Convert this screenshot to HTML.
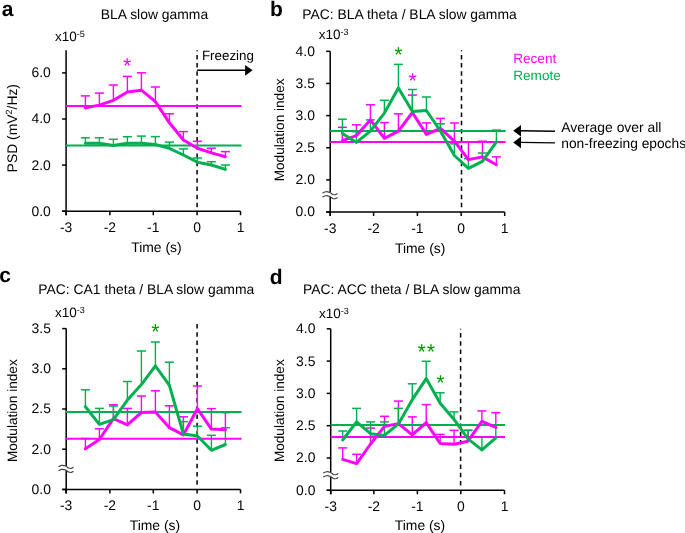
<!DOCTYPE html>
<html><head><meta charset="utf-8"><style>
html,body{margin:0;padding:0;background:#fff;}
svg{display:block;will-change:transform;}
text{font-family:"Liberation Sans",sans-serif;text-rendering:geometricPrecision;}
</style></head><body>
<svg width="685" height="533" viewBox="0 0 685 533">
<rect width="685" height="533" fill="#fff"/>
<text x="1.8" y="16" font-size="21" text-anchor="start" fill="#000" font-weight="bold" >a</text>
<text x="154.5" y="18.6" font-size="13.9" text-anchor="middle" fill="#000" font-weight="normal" >BLA slow gamma</text>
<text x="54.9" y="40.8" font-size="13.5">x10<tspan font-size="9" dy="-4.3">-5</tspan></text>
<line x1="66.1" y1="50.2" x2="66.1" y2="215.2" stroke="#000" stroke-width="1.5" />
<line x1="62.099999999999994" y1="72.9" x2="66.1" y2="72.9" stroke="#000" stroke-width="1.5" />
<text x="50.8" y="77.30000000000001" font-size="13.9" text-anchor="end" fill="#000" font-weight="normal" >6.0</text>
<line x1="62.099999999999994" y1="119" x2="66.1" y2="119" stroke="#000" stroke-width="1.5" />
<text x="50.8" y="123.4" font-size="13.9" text-anchor="end" fill="#000" font-weight="normal" >4.0</text>
<line x1="62.099999999999994" y1="165.1" x2="66.1" y2="165.1" stroke="#000" stroke-width="1.5" />
<text x="50.8" y="169.5" font-size="13.9" text-anchor="end" fill="#000" font-weight="normal" >2.0</text>
<line x1="62.099999999999994" y1="211.2" x2="66.1" y2="211.2" stroke="#000" stroke-width="1.5" />
<text x="50.8" y="215.6" font-size="13.9" text-anchor="end" fill="#000" font-weight="normal" >0.0</text>
<line x1="62.099999999999994" y1="211.2" x2="240.5" y2="211.2" stroke="#000" stroke-width="1.5" />
<line x1="66.1" y1="211.2" x2="66.1" y2="215.2" stroke="#000" stroke-width="1.5" />
<text x="66.1" y="231.79999999999998" font-size="13.9" text-anchor="middle" fill="#000" font-weight="normal" >-3</text>
<line x1="109.9" y1="211.2" x2="109.9" y2="215.2" stroke="#000" stroke-width="1.5" />
<text x="109.9" y="231.79999999999998" font-size="13.9" text-anchor="middle" fill="#000" font-weight="normal" >-2</text>
<line x1="153.3" y1="211.2" x2="153.3" y2="215.2" stroke="#000" stroke-width="1.5" />
<text x="153.3" y="231.79999999999998" font-size="13.9" text-anchor="middle" fill="#000" font-weight="normal" >-1</text>
<line x1="197.1" y1="211.2" x2="197.1" y2="215.2" stroke="#000" stroke-width="1.5" />
<text x="197.1" y="231.79999999999998" font-size="13.9" text-anchor="middle" fill="#000" font-weight="normal" >0</text>
<line x1="240.5" y1="211.2" x2="240.5" y2="215.2" stroke="#000" stroke-width="1.5" />
<text x="240.5" y="231.79999999999998" font-size="13.9" text-anchor="middle" fill="#000" font-weight="normal" >1</text>
<text x="156.4" y="251.7" font-size="13.9" text-anchor="middle" fill="#000" font-weight="normal" >Time (s)</text>
<text transform="translate(16.6,128.2) rotate(-90)" font-size="13.9" text-anchor="middle">PSD (mV<tspan font-size="9" dy="-4.3">2</tspan><tspan dy="4.3">/Hz)</tspan></text>
<line x1="197.1" y1="50.2" x2="197.1" y2="207.5" stroke="#000" stroke-width="1.5" stroke-dasharray="4.5 3.72" stroke-dashoffset="3.52"/>
<text x="201.9" y="59.7" font-size="13.4" text-anchor="start" fill="#000" font-weight="normal" >Freezing</text>
<line x1="197.1" y1="70.2" x2="246" y2="70.2" stroke="#000" stroke-width="1.4" />
<polygon points="245.1,64.9 252.6,70.3 245.1,75.8" fill="#000"/>
<line x1="85.4" y1="107.8" x2="85.4" y2="95.9" stroke="#FF00FF" stroke-width="1.4" />
<line x1="80.9" y1="95.9" x2="89.9" y2="95.9" stroke="#FF00FF" stroke-width="1.5" />
<line x1="99.4" y1="105.1" x2="99.4" y2="93.1" stroke="#FF00FF" stroke-width="1.4" />
<line x1="94.9" y1="93.1" x2="103.9" y2="93.1" stroke="#FF00FF" stroke-width="1.5" />
<line x1="113.4" y1="100.3" x2="113.4" y2="85" stroke="#FF00FF" stroke-width="1.4" />
<line x1="108.9" y1="85" x2="117.9" y2="85" stroke="#FF00FF" stroke-width="1.5" />
<line x1="127.4" y1="92" x2="127.4" y2="76.4" stroke="#FF00FF" stroke-width="1.4" />
<line x1="122.9" y1="76.4" x2="131.9" y2="76.4" stroke="#FF00FF" stroke-width="1.5" />
<line x1="141.4" y1="90.2" x2="141.4" y2="72.8" stroke="#FF00FF" stroke-width="1.4" />
<line x1="136.9" y1="72.8" x2="145.9" y2="72.8" stroke="#FF00FF" stroke-width="1.5" />
<line x1="155.4" y1="101.7" x2="155.4" y2="87" stroke="#FF00FF" stroke-width="1.4" />
<line x1="150.9" y1="87" x2="159.9" y2="87" stroke="#FF00FF" stroke-width="1.5" />
<line x1="169.4" y1="122.8" x2="169.4" y2="113.8" stroke="#FF00FF" stroke-width="1.4" />
<line x1="164.9" y1="113.8" x2="173.9" y2="113.8" stroke="#FF00FF" stroke-width="1.5" />
<line x1="183.4" y1="140" x2="183.4" y2="131.6" stroke="#FF00FF" stroke-width="1.4" />
<line x1="178.9" y1="131.6" x2="187.9" y2="131.6" stroke="#FF00FF" stroke-width="1.5" />
<line x1="197.4" y1="148.3" x2="197.4" y2="141.3" stroke="#FF00FF" stroke-width="1.4" />
<line x1="192.9" y1="141.3" x2="201.9" y2="141.3" stroke="#FF00FF" stroke-width="1.5" />
<line x1="211.4" y1="152.9" x2="211.4" y2="148.2" stroke="#FF00FF" stroke-width="1.4" />
<line x1="206.9" y1="148.2" x2="215.9" y2="148.2" stroke="#FF00FF" stroke-width="1.5" />
<line x1="225.4" y1="156.7" x2="225.4" y2="151.6" stroke="#FF00FF" stroke-width="1.4" />
<line x1="220.9" y1="151.6" x2="229.9" y2="151.6" stroke="#FF00FF" stroke-width="1.5" />
<line x1="85.4" y1="143.2" x2="85.4" y2="137.8" stroke="#00B050" stroke-width="1.4" />
<line x1="80.9" y1="137.8" x2="89.9" y2="137.8" stroke="#00B050" stroke-width="1.5" />
<line x1="99.4" y1="143.2" x2="99.4" y2="137.8" stroke="#00B050" stroke-width="1.4" />
<line x1="94.9" y1="137.8" x2="103.9" y2="137.8" stroke="#00B050" stroke-width="1.5" />
<line x1="113.4" y1="145.4" x2="113.4" y2="139.3" stroke="#00B050" stroke-width="1.4" />
<line x1="108.9" y1="139.3" x2="117.9" y2="139.3" stroke="#00B050" stroke-width="1.5" />
<line x1="127.4" y1="143.2" x2="127.4" y2="136.7" stroke="#00B050" stroke-width="1.4" />
<line x1="122.9" y1="136.7" x2="131.9" y2="136.7" stroke="#00B050" stroke-width="1.5" />
<line x1="141.4" y1="143.3" x2="141.4" y2="136.1" stroke="#00B050" stroke-width="1.4" />
<line x1="136.9" y1="136.1" x2="145.9" y2="136.1" stroke="#00B050" stroke-width="1.5" />
<line x1="155.4" y1="144.5" x2="155.4" y2="136.6" stroke="#00B050" stroke-width="1.4" />
<line x1="150.9" y1="136.6" x2="159.9" y2="136.6" stroke="#00B050" stroke-width="1.5" />
<line x1="169.4" y1="148.4" x2="169.4" y2="142.1" stroke="#00B050" stroke-width="1.4" />
<line x1="164.9" y1="142.1" x2="173.9" y2="142.1" stroke="#00B050" stroke-width="1.5" />
<line x1="183.4" y1="155" x2="183.4" y2="148.9" stroke="#00B050" stroke-width="1.4" />
<line x1="178.9" y1="148.9" x2="187.9" y2="148.9" stroke="#00B050" stroke-width="1.5" />
<line x1="197.4" y1="162.2" x2="197.4" y2="158" stroke="#00B050" stroke-width="1.4" />
<line x1="192.9" y1="158" x2="201.9" y2="158" stroke="#00B050" stroke-width="1.5" />
<line x1="211.4" y1="165" x2="211.4" y2="161.7" stroke="#00B050" stroke-width="1.4" />
<line x1="206.9" y1="161.7" x2="215.9" y2="161.7" stroke="#00B050" stroke-width="1.5" />
<line x1="225.4" y1="169.4" x2="225.4" y2="165" stroke="#00B050" stroke-width="1.4" />
<line x1="220.9" y1="165" x2="229.9" y2="165" stroke="#00B050" stroke-width="1.5" />
<line x1="66" y1="105.9" x2="241.5" y2="105.9" stroke="#FF00FF" stroke-width="2" />
<line x1="66" y1="145.5" x2="241.5" y2="145.5" stroke="#00B050" stroke-width="2" />
<polyline points="85.40,107.80 99.40,105.10 113.40,100.30 127.40,92.00 141.40,90.20 155.40,101.70 169.40,122.80 183.40,140.00 197.40,148.30 211.40,152.90 225.40,156.70" fill="none" stroke="#FF00FF" stroke-width="3" stroke-linejoin="round" stroke-linecap="round" />
<polyline points="85.40,143.20 99.40,143.20 113.40,145.40 127.40,143.20 141.40,143.30 155.40,144.50 169.40,148.40 183.40,155.00 197.40,162.20 211.40,165.00 225.40,169.40" fill="none" stroke="#00B050" stroke-width="3" stroke-linejoin="round" stroke-linecap="round" />
<text x="127.1" y="72.93" font-size="21.5" text-anchor="middle" fill="#FF00FF" font-weight="normal" >*</text>
<text x="269.9" y="15.7" font-size="21" text-anchor="start" fill="#000" font-weight="bold" >b</text>
<text x="409.5" y="18.5" font-size="13.9" text-anchor="middle" fill="#000" font-weight="normal" >PAC: BLA theta / BLA slow gamma</text>
<text x="318.7" y="39.2" font-size="13.5">x10<tspan font-size="9" dy="-4.3">-3</tspan></text>
<line x1="330.2" y1="51.3" x2="330.2" y2="216" stroke="#000" stroke-width="1.5" />
<line x1="326.2" y1="51.3" x2="330.2" y2="51.3" stroke="#000" stroke-width="1.5" />
<text x="314.9" y="55.699999999999996" font-size="13.9" text-anchor="end" fill="#000" font-weight="normal" >4.0</text>
<line x1="326.2" y1="83.45" x2="330.2" y2="83.45" stroke="#000" stroke-width="1.5" />
<text x="314.9" y="87.85000000000001" font-size="13.9" text-anchor="end" fill="#000" font-weight="normal" >3.5</text>
<line x1="326.2" y1="115.6" x2="330.2" y2="115.6" stroke="#000" stroke-width="1.5" />
<text x="314.9" y="120.0" font-size="13.9" text-anchor="end" fill="#000" font-weight="normal" >3.0</text>
<line x1="326.2" y1="147.75" x2="330.2" y2="147.75" stroke="#000" stroke-width="1.5" />
<text x="314.9" y="152.15" font-size="13.9" text-anchor="end" fill="#000" font-weight="normal" >2.5</text>
<line x1="326.2" y1="179.9" x2="330.2" y2="179.9" stroke="#000" stroke-width="1.5" />
<text x="314.9" y="184.3" font-size="13.9" text-anchor="end" fill="#000" font-weight="normal" >2.0</text>
<line x1="326.2" y1="212" x2="330.2" y2="212" stroke="#000" stroke-width="1.5" />
<text x="314.9" y="216.4" font-size="13.9" text-anchor="end" fill="#000" font-weight="normal" >0.0</text>
<line x1="326.2" y1="212" x2="504.7" y2="212" stroke="#000" stroke-width="1.5" />
<line x1="330.2" y1="212" x2="330.2" y2="216" stroke="#000" stroke-width="1.5" />
<text x="330.2" y="232.6" font-size="13.9" text-anchor="middle" fill="#000" font-weight="normal" >-3</text>
<line x1="373.6" y1="212" x2="373.6" y2="216" stroke="#000" stroke-width="1.5" />
<text x="373.6" y="232.6" font-size="13.9" text-anchor="middle" fill="#000" font-weight="normal" >-2</text>
<line x1="417.4" y1="212" x2="417.4" y2="216" stroke="#000" stroke-width="1.5" />
<text x="417.4" y="232.6" font-size="13.9" text-anchor="middle" fill="#000" font-weight="normal" >-1</text>
<line x1="461.2" y1="212" x2="461.2" y2="216" stroke="#000" stroke-width="1.5" />
<text x="461.2" y="232.6" font-size="13.9" text-anchor="middle" fill="#000" font-weight="normal" >0</text>
<line x1="504.7" y1="212" x2="504.7" y2="216" stroke="#000" stroke-width="1.5" />
<text x="504.7" y="232.6" font-size="13.9" text-anchor="middle" fill="#000" font-weight="normal" >1</text>
<rect x="328.2" y="192.6" width="4" height="4.0" fill="#fff"/>
<path d="M322.40,193.10 C322.98,192.87 324.68,191.82 325.90,191.70 C327.12,191.58 328.57,191.95 329.70,192.40 C330.83,192.85 331.78,194.02 332.70,194.40 C333.62,194.78 334.38,194.85 335.20,194.70 C336.02,194.55 337.20,193.70 337.60,193.50" fill="none" stroke="#444" stroke-width="1.1"/>
<path d="M322.40,197.10 C322.98,196.87 324.68,195.82 325.90,195.70 C327.12,195.58 328.57,195.95 329.70,196.40 C330.83,196.85 331.78,198.02 332.70,198.40 C333.62,198.78 334.38,198.85 335.20,198.70 C336.02,198.55 337.20,197.70 337.60,197.50" fill="none" stroke="#444" stroke-width="1.1"/>
<text x="420.2" y="253" font-size="13.9" text-anchor="middle" fill="#000" font-weight="normal" >Time (s)</text>
<text transform="translate(283.7,129.9) rotate(-90)" font-size="13.6" text-anchor="middle">Modulation index</text>
<line x1="461.5" y1="50.2" x2="461.5" y2="207.5" stroke="#000" stroke-width="1.5" stroke-dasharray="4.5 3.72" stroke-dashoffset="3.52"/>
<line x1="342.4" y1="140.6" x2="342.4" y2="127.3" stroke="#FF00FF" stroke-width="1.4" />
<line x1="337.9" y1="127.3" x2="346.9" y2="127.3" stroke="#FF00FF" stroke-width="1.5" />
<line x1="356.4" y1="135.6" x2="356.4" y2="124.8" stroke="#FF00FF" stroke-width="1.4" />
<line x1="351.9" y1="124.8" x2="360.9" y2="124.8" stroke="#FF00FF" stroke-width="1.5" />
<line x1="370.4" y1="119.9" x2="370.4" y2="104.8" stroke="#FF00FF" stroke-width="1.4" />
<line x1="365.9" y1="104.8" x2="374.9" y2="104.8" stroke="#FF00FF" stroke-width="1.5" />
<line x1="384.4" y1="138.3" x2="384.4" y2="122.6" stroke="#FF00FF" stroke-width="1.4" />
<line x1="379.9" y1="122.6" x2="388.9" y2="122.6" stroke="#FF00FF" stroke-width="1.5" />
<line x1="398.4" y1="131.1" x2="398.4" y2="113.8" stroke="#FF00FF" stroke-width="1.4" />
<line x1="393.9" y1="113.8" x2="402.9" y2="113.8" stroke="#FF00FF" stroke-width="1.5" />
<line x1="412.4" y1="112.5" x2="412.4" y2="95.1" stroke="#FF00FF" stroke-width="1.4" />
<line x1="407.9" y1="95.1" x2="416.9" y2="95.1" stroke="#FF00FF" stroke-width="1.5" />
<line x1="426.4" y1="134.4" x2="426.4" y2="122.9" stroke="#FF00FF" stroke-width="1.4" />
<line x1="421.9" y1="122.9" x2="430.9" y2="122.9" stroke="#FF00FF" stroke-width="1.5" />
<line x1="440.4" y1="128.4" x2="440.4" y2="118.4" stroke="#FF00FF" stroke-width="1.4" />
<line x1="435.9" y1="118.4" x2="444.9" y2="118.4" stroke="#FF00FF" stroke-width="1.5" />
<line x1="454.4" y1="141.2" x2="454.4" y2="123" stroke="#FF00FF" stroke-width="1.4" />
<line x1="449.9" y1="123" x2="458.9" y2="123" stroke="#FF00FF" stroke-width="1.5" />
<line x1="468.4" y1="159.6" x2="468.4" y2="142" stroke="#FF00FF" stroke-width="1.4" />
<line x1="463.9" y1="142" x2="472.9" y2="142" stroke="#FF00FF" stroke-width="1.5" />
<line x1="482.4" y1="156.9" x2="482.4" y2="141.2" stroke="#FF00FF" stroke-width="1.4" />
<line x1="477.9" y1="141.2" x2="486.9" y2="141.2" stroke="#FF00FF" stroke-width="1.5" />
<line x1="496.4" y1="164.8" x2="496.4" y2="156.9" stroke="#FF00FF" stroke-width="1.4" />
<line x1="491.9" y1="156.9" x2="500.9" y2="156.9" stroke="#FF00FF" stroke-width="1.5" />
<line x1="342.4" y1="133.4" x2="342.4" y2="119.2" stroke="#00B050" stroke-width="1.4" />
<line x1="337.9" y1="119.2" x2="346.9" y2="119.2" stroke="#00B050" stroke-width="1.5" />
<line x1="356.4" y1="142.4" x2="356.4" y2="131.6" stroke="#00B050" stroke-width="1.4" />
<line x1="351.9" y1="131.6" x2="360.9" y2="131.6" stroke="#00B050" stroke-width="1.5" />
<line x1="370.4" y1="131.1" x2="370.4" y2="119.9" stroke="#00B050" stroke-width="1.4" />
<line x1="365.9" y1="119.9" x2="374.9" y2="119.9" stroke="#00B050" stroke-width="1.5" />
<line x1="384.4" y1="113.1" x2="384.4" y2="100.3" stroke="#00B050" stroke-width="1.4" />
<line x1="379.9" y1="100.3" x2="388.9" y2="100.3" stroke="#00B050" stroke-width="1.5" />
<line x1="398.4" y1="87.9" x2="398.4" y2="64.4" stroke="#00B050" stroke-width="1.4" />
<line x1="393.9" y1="64.4" x2="402.9" y2="64.4" stroke="#00B050" stroke-width="1.5" />
<line x1="412.4" y1="111.6" x2="412.4" y2="89.5" stroke="#00B050" stroke-width="1.4" />
<line x1="407.9" y1="89.5" x2="416.9" y2="89.5" stroke="#00B050" stroke-width="1.5" />
<line x1="426.4" y1="110.5" x2="426.4" y2="97" stroke="#00B050" stroke-width="1.4" />
<line x1="421.9" y1="97" x2="430.9" y2="97" stroke="#00B050" stroke-width="1.5" />
<line x1="440.4" y1="131" x2="440.4" y2="123.8" stroke="#00B050" stroke-width="1.4" />
<line x1="435.9" y1="123.8" x2="444.9" y2="123.8" stroke="#00B050" stroke-width="1.5" />
<line x1="454.4" y1="155.5" x2="454.4" y2="143.8" stroke="#00B050" stroke-width="1.4" />
<line x1="449.9" y1="143.8" x2="458.9" y2="143.8" stroke="#00B050" stroke-width="1.5" />
<line x1="468.4" y1="168.3" x2="468.4" y2="158.7" stroke="#00B050" stroke-width="1.4" />
<line x1="463.9" y1="158.7" x2="472.9" y2="158.7" stroke="#00B050" stroke-width="1.5" />
<line x1="482.4" y1="161.3" x2="482.4" y2="153" stroke="#00B050" stroke-width="1.4" />
<line x1="477.9" y1="153" x2="486.9" y2="153" stroke="#00B050" stroke-width="1.5" />
<line x1="496.4" y1="142" x2="496.4" y2="130.1" stroke="#00B050" stroke-width="1.4" />
<line x1="491.9" y1="130.1" x2="500.9" y2="130.1" stroke="#00B050" stroke-width="1.5" />
<line x1="330.2" y1="130.9" x2="505.6" y2="130.9" stroke="#00B050" stroke-width="2" />
<line x1="330.2" y1="141.9" x2="505.6" y2="141.9" stroke="#FF00FF" stroke-width="2" />
<polyline points="342.40,140.60 356.40,135.60 370.40,119.90 384.40,138.30 398.40,131.10 412.40,112.50 426.40,134.40 440.40,128.40 454.40,141.20 468.40,159.60 482.40,156.90 496.40,164.80" fill="none" stroke="#FF00FF" stroke-width="3" stroke-linejoin="round" stroke-linecap="round" />
<polyline points="342.40,133.40 356.40,142.40 370.40,131.10 384.40,113.10 398.40,87.90 412.40,111.60 426.40,110.50 440.40,131.00 454.40,155.50 468.40,168.30 482.40,161.30 496.40,142.00" fill="none" stroke="#00B050" stroke-width="3" stroke-linejoin="round" stroke-linecap="round" />
<text x="398.4" y="62.48" font-size="21.5" text-anchor="middle" fill="#009A00" font-weight="normal" >*</text>
<text x="412.6" y="88.23" font-size="21.5" text-anchor="middle" fill="#FF00FF" font-weight="normal" >*</text>
<text x="513.2" y="63" font-size="13.6" text-anchor="start" fill="#FF00FF" font-weight="normal" >Recent</text>
<text x="513.2" y="79.7" font-size="13.6" text-anchor="start" fill="#00B050" font-weight="normal" >Remote</text>
<line x1="520" y1="130.8" x2="555" y2="131.3" stroke="#000" stroke-width="1.4"/>
<polygon points="513.2,130.8 521,125.00000000000001 521,136.60000000000002" fill="#000"/>
<line x1="520" y1="142.4" x2="555" y2="142.9" stroke="#000" stroke-width="1.4"/>
<polygon points="513.2,142.4 521,136.6 521,148.20000000000002" fill="#000"/>
<text x="561.3" y="132" font-size="13.9" text-anchor="start" fill="#000" font-weight="normal" >Average over all</text>
<text x="561.3" y="148.3" font-size="13.77" text-anchor="start" fill="#000" font-weight="normal" >non-freezing epochs</text>
<text x="-0.8" y="282.3" font-size="21" text-anchor="start" fill="#000" font-weight="bold" >c</text>
<text x="146.3" y="293.5" font-size="13.9" text-anchor="middle" fill="#000" font-weight="normal" >PAC: CA1 theta / BLA slow gamma</text>
<text x="54.9" y="317" font-size="13.5">x10<tspan font-size="9" dy="-4.3">-3</tspan></text>
<line x1="66.2" y1="328.4" x2="66.2" y2="493.4" stroke="#000" stroke-width="1.5" />
<line x1="62.2" y1="328.6" x2="66.2" y2="328.6" stroke="#000" stroke-width="1.5" />
<text x="50.900000000000006" y="333.0" font-size="13.9" text-anchor="end" fill="#000" font-weight="normal" >3.5</text>
<line x1="62.2" y1="368.8" x2="66.2" y2="368.8" stroke="#000" stroke-width="1.5" />
<text x="50.900000000000006" y="373.2" font-size="13.9" text-anchor="end" fill="#000" font-weight="normal" >3.0</text>
<line x1="62.2" y1="409" x2="66.2" y2="409" stroke="#000" stroke-width="1.5" />
<text x="50.900000000000006" y="413.4" font-size="13.9" text-anchor="end" fill="#000" font-weight="normal" >2.5</text>
<line x1="62.2" y1="449.2" x2="66.2" y2="449.2" stroke="#000" stroke-width="1.5" />
<text x="50.900000000000006" y="453.59999999999997" font-size="13.9" text-anchor="end" fill="#000" font-weight="normal" >2.0</text>
<line x1="62.2" y1="489.4" x2="66.2" y2="489.4" stroke="#000" stroke-width="1.5" />
<text x="50.900000000000006" y="493.79999999999995" font-size="13.9" text-anchor="end" fill="#000" font-weight="normal" >0.0</text>
<line x1="62.2" y1="489.4" x2="240.5" y2="489.4" stroke="#000" stroke-width="1.5" />
<line x1="66.1" y1="489.4" x2="66.1" y2="493.4" stroke="#000" stroke-width="1.5" />
<text x="66.1" y="510.0" font-size="13.9" text-anchor="middle" fill="#000" font-weight="normal" >-3</text>
<line x1="109.9" y1="489.4" x2="109.9" y2="493.4" stroke="#000" stroke-width="1.5" />
<text x="109.9" y="510.0" font-size="13.9" text-anchor="middle" fill="#000" font-weight="normal" >-2</text>
<line x1="153.3" y1="489.4" x2="153.3" y2="493.4" stroke="#000" stroke-width="1.5" />
<text x="153.3" y="510.0" font-size="13.9" text-anchor="middle" fill="#000" font-weight="normal" >-1</text>
<line x1="197.1" y1="489.4" x2="197.1" y2="493.4" stroke="#000" stroke-width="1.5" />
<text x="197.1" y="510.0" font-size="13.9" text-anchor="middle" fill="#000" font-weight="normal" >0</text>
<line x1="240.5" y1="489.4" x2="240.5" y2="493.4" stroke="#000" stroke-width="1.5" />
<text x="240.5" y="510.0" font-size="13.9" text-anchor="middle" fill="#000" font-weight="normal" >1</text>
<rect x="64.2" y="466.3" width="4" height="4.0" fill="#fff"/>
<path d="M58.40,466.80 C58.98,466.57 60.68,465.52 61.90,465.40 C63.12,465.28 64.57,465.65 65.70,466.10 C66.83,466.55 67.78,467.72 68.70,468.10 C69.62,468.48 70.38,468.55 71.20,468.40 C72.02,468.25 73.20,467.40 73.60,467.20" fill="none" stroke="#444" stroke-width="1.1"/>
<path d="M58.40,470.80 C58.98,470.57 60.68,469.52 61.90,469.40 C63.12,469.28 64.57,469.65 65.70,470.10 C66.83,470.55 67.78,471.72 68.70,472.10 C69.62,472.48 70.38,472.55 71.20,472.40 C72.02,472.25 73.20,471.40 73.60,471.20" fill="none" stroke="#444" stroke-width="1.1"/>
<text x="154.9" y="529.5" font-size="13.9" text-anchor="middle" fill="#000" font-weight="normal" >Time (s)</text>
<text transform="translate(17.2,410.7) rotate(-90)" font-size="13.6" text-anchor="middle">Modulation index</text>
<line x1="197.1" y1="324.1" x2="197.1" y2="485" stroke="#000" stroke-width="1.5" stroke-dasharray="4.5 3.72" stroke-dashoffset="0.00"/>
<line x1="85.4" y1="448.8" x2="85.4" y2="438.5" stroke="#FF00FF" stroke-width="1.4" />
<line x1="80.9" y1="438.5" x2="89.9" y2="438.5" stroke="#FF00FF" stroke-width="1.5" />
<line x1="99.4" y1="439.5" x2="99.4" y2="428.8" stroke="#FF00FF" stroke-width="1.4" />
<line x1="94.9" y1="428.8" x2="103.9" y2="428.8" stroke="#FF00FF" stroke-width="1.5" />
<line x1="113.4" y1="418.7" x2="113.4" y2="404.8" stroke="#FF00FF" stroke-width="1.4" />
<line x1="108.9" y1="404.8" x2="117.9" y2="404.8" stroke="#FF00FF" stroke-width="1.5" />
<line x1="127.4" y1="424.8" x2="127.4" y2="408.4" stroke="#FF00FF" stroke-width="1.4" />
<line x1="122.9" y1="408.4" x2="131.9" y2="408.4" stroke="#FF00FF" stroke-width="1.5" />
<line x1="141.4" y1="412.5" x2="141.4" y2="396" stroke="#FF00FF" stroke-width="1.4" />
<line x1="136.9" y1="396" x2="145.9" y2="396" stroke="#FF00FF" stroke-width="1.5" />
<line x1="155.4" y1="411.9" x2="155.4" y2="390.8" stroke="#FF00FF" stroke-width="1.4" />
<line x1="150.9" y1="390.8" x2="159.9" y2="390.8" stroke="#FF00FF" stroke-width="1.5" />
<line x1="169.4" y1="427.7" x2="169.4" y2="405.8" stroke="#FF00FF" stroke-width="1.4" />
<line x1="164.9" y1="405.8" x2="173.9" y2="405.8" stroke="#FF00FF" stroke-width="1.5" />
<line x1="183.4" y1="434.9" x2="183.4" y2="416.8" stroke="#FF00FF" stroke-width="1.4" />
<line x1="178.9" y1="416.8" x2="187.9" y2="416.8" stroke="#FF00FF" stroke-width="1.5" />
<line x1="197.4" y1="408.7" x2="197.4" y2="386" stroke="#FF00FF" stroke-width="1.4" />
<line x1="192.9" y1="386" x2="201.9" y2="386" stroke="#FF00FF" stroke-width="1.5" />
<line x1="211.4" y1="429.1" x2="211.4" y2="408.6" stroke="#FF00FF" stroke-width="1.4" />
<line x1="206.9" y1="408.6" x2="215.9" y2="408.6" stroke="#FF00FF" stroke-width="1.5" />
<line x1="225.4" y1="429.8" x2="225.4" y2="412.7" stroke="#FF00FF" stroke-width="1.4" />
<line x1="220.9" y1="412.7" x2="229.9" y2="412.7" stroke="#FF00FF" stroke-width="1.5" />
<line x1="85.4" y1="406.7" x2="85.4" y2="389.8" stroke="#00B050" stroke-width="1.4" />
<line x1="80.9" y1="389.8" x2="89.9" y2="389.8" stroke="#00B050" stroke-width="1.5" />
<line x1="99.4" y1="424.4" x2="99.4" y2="408.4" stroke="#00B050" stroke-width="1.4" />
<line x1="94.9" y1="408.4" x2="103.9" y2="408.4" stroke="#00B050" stroke-width="1.5" />
<line x1="113.4" y1="419.7" x2="113.4" y2="406" stroke="#00B050" stroke-width="1.4" />
<line x1="108.9" y1="406" x2="117.9" y2="406" stroke="#00B050" stroke-width="1.5" />
<line x1="127.4" y1="400.1" x2="127.4" y2="381.5" stroke="#00B050" stroke-width="1.4" />
<line x1="122.9" y1="381.5" x2="131.9" y2="381.5" stroke="#00B050" stroke-width="1.5" />
<line x1="141.4" y1="384.6" x2="141.4" y2="351" stroke="#00B050" stroke-width="1.4" />
<line x1="136.9" y1="351" x2="145.9" y2="351" stroke="#00B050" stroke-width="1.5" />
<line x1="155.4" y1="365.8" x2="155.4" y2="342" stroke="#00B050" stroke-width="1.4" />
<line x1="150.9" y1="342" x2="159.9" y2="342" stroke="#00B050" stroke-width="1.5" />
<line x1="169.4" y1="385.3" x2="169.4" y2="362.2" stroke="#00B050" stroke-width="1.4" />
<line x1="164.9" y1="362.2" x2="173.9" y2="362.2" stroke="#00B050" stroke-width="1.5" />
<line x1="183.4" y1="434" x2="183.4" y2="421.6" stroke="#00B050" stroke-width="1.4" />
<line x1="178.9" y1="421.6" x2="187.9" y2="421.6" stroke="#00B050" stroke-width="1.5" />
<line x1="197.4" y1="436" x2="197.4" y2="426.2" stroke="#00B050" stroke-width="1.4" />
<line x1="192.9" y1="426.2" x2="201.9" y2="426.2" stroke="#00B050" stroke-width="1.5" />
<line x1="211.4" y1="450.3" x2="211.4" y2="435.3" stroke="#00B050" stroke-width="1.4" />
<line x1="206.9" y1="435.3" x2="215.9" y2="435.3" stroke="#00B050" stroke-width="1.5" />
<line x1="225.4" y1="444.5" x2="225.4" y2="427.8" stroke="#00B050" stroke-width="1.4" />
<line x1="220.9" y1="427.8" x2="229.9" y2="427.8" stroke="#00B050" stroke-width="1.5" />
<line x1="66" y1="411.9" x2="241.5" y2="411.9" stroke="#00B050" stroke-width="2" />
<line x1="66" y1="438.8" x2="241.5" y2="438.8" stroke="#FF00FF" stroke-width="2" />
<polyline points="85.40,448.80 99.40,439.50 113.40,418.70 127.40,424.80 141.40,412.50 155.40,411.90 169.40,427.70 183.40,434.90 197.40,408.70 211.40,429.10 225.40,429.80" fill="none" stroke="#FF00FF" stroke-width="3" stroke-linejoin="round" stroke-linecap="round" />
<polyline points="85.40,406.70 99.40,424.40 113.40,419.70 127.40,400.10 141.40,384.60 155.40,365.80 169.40,385.30 183.40,434.00 197.40,436.00 211.40,450.30 225.40,444.50" fill="none" stroke="#00B050" stroke-width="3" stroke-linejoin="round" stroke-linecap="round" />
<text x="155.4" y="338.58" font-size="21.5" text-anchor="middle" fill="#009A00" font-weight="normal" >*</text>
<text x="269.7" y="283.9" font-size="21" text-anchor="start" fill="#000" font-weight="bold" >d</text>
<text x="411.7" y="293.5" font-size="13.9" text-anchor="middle" fill="#000" font-weight="normal" >PAC: ACC theta / BLA slow gamma</text>
<text x="319" y="318" font-size="13.5">x10<tspan font-size="9" dy="-4.3">-3</tspan></text>
<line x1="330.7" y1="328.8" x2="330.7" y2="494.3" stroke="#000" stroke-width="1.5" />
<line x1="326.7" y1="328.8" x2="330.7" y2="328.8" stroke="#000" stroke-width="1.5" />
<text x="315.4" y="333.2" font-size="13.9" text-anchor="end" fill="#000" font-weight="normal" >4.0</text>
<line x1="326.7" y1="361.1" x2="330.7" y2="361.1" stroke="#000" stroke-width="1.5" />
<text x="315.4" y="365.5" font-size="13.9" text-anchor="end" fill="#000" font-weight="normal" >3.5</text>
<line x1="326.7" y1="393.4" x2="330.7" y2="393.4" stroke="#000" stroke-width="1.5" />
<text x="315.4" y="397.79999999999995" font-size="13.9" text-anchor="end" fill="#000" font-weight="normal" >3.0</text>
<line x1="326.7" y1="425.7" x2="330.7" y2="425.7" stroke="#000" stroke-width="1.5" />
<text x="315.4" y="430.09999999999997" font-size="13.9" text-anchor="end" fill="#000" font-weight="normal" >2.5</text>
<line x1="326.7" y1="458" x2="330.7" y2="458" stroke="#000" stroke-width="1.5" />
<text x="315.4" y="462.4" font-size="13.9" text-anchor="end" fill="#000" font-weight="normal" >2.0</text>
<line x1="326.7" y1="490.3" x2="330.7" y2="490.3" stroke="#000" stroke-width="1.5" />
<text x="315.4" y="494.7" font-size="13.9" text-anchor="end" fill="#000" font-weight="normal" >0.0</text>
<line x1="326.7" y1="490.3" x2="504.5" y2="490.3" stroke="#000" stroke-width="1.5" />
<line x1="330.7" y1="490.3" x2="330.7" y2="494.3" stroke="#000" stroke-width="1.5" />
<text x="330.7" y="510.90000000000003" font-size="13.9" text-anchor="middle" fill="#000" font-weight="normal" >-3</text>
<line x1="373.9" y1="490.3" x2="373.9" y2="494.3" stroke="#000" stroke-width="1.5" />
<text x="373.9" y="510.90000000000003" font-size="13.9" text-anchor="middle" fill="#000" font-weight="normal" >-2</text>
<line x1="417.4" y1="490.3" x2="417.4" y2="494.3" stroke="#000" stroke-width="1.5" />
<text x="417.4" y="510.90000000000003" font-size="13.9" text-anchor="middle" fill="#000" font-weight="normal" >-1</text>
<line x1="460.8" y1="490.3" x2="460.8" y2="494.3" stroke="#000" stroke-width="1.5" />
<text x="460.8" y="510.90000000000003" font-size="13.9" text-anchor="middle" fill="#000" font-weight="normal" >0</text>
<line x1="504.5" y1="490.3" x2="504.5" y2="494.3" stroke="#000" stroke-width="1.5" />
<text x="504.5" y="510.90000000000003" font-size="13.9" text-anchor="middle" fill="#000" font-weight="normal" >1</text>
<rect x="328.9" y="472.6" width="4" height="4.0" fill="#fff"/>
<path d="M323.10,473.10 C323.68,472.87 325.38,471.82 326.60,471.70 C327.82,471.58 329.27,471.95 330.40,472.40 C331.53,472.85 332.48,474.02 333.40,474.40 C334.32,474.78 335.08,474.85 335.90,474.70 C336.72,474.55 337.90,473.70 338.30,473.50" fill="none" stroke="#444" stroke-width="1.1"/>
<path d="M323.10,477.10 C323.68,476.87 325.38,475.82 326.60,475.70 C327.82,475.58 329.27,475.95 330.40,476.40 C331.53,476.85 332.48,478.02 333.40,478.40 C334.32,478.78 335.08,478.85 335.90,478.70 C336.72,478.55 337.90,477.70 338.30,477.50" fill="none" stroke="#444" stroke-width="1.1"/>
<text x="420" y="529.5" font-size="13.9" text-anchor="middle" fill="#000" font-weight="normal" >Time (s)</text>
<text transform="translate(283.7,410.7) rotate(-90)" font-size="13.6" text-anchor="middle">Modulation index</text>
<line x1="460.6" y1="328.8" x2="460.6" y2="486" stroke="#000" stroke-width="1.5" stroke-dasharray="4.5 3.72" stroke-dashoffset="3.92"/>
<line x1="342.7" y1="459.4" x2="342.7" y2="447.9" stroke="#FF00FF" stroke-width="1.4" />
<line x1="338.2" y1="447.9" x2="347.2" y2="447.9" stroke="#FF00FF" stroke-width="1.5" />
<line x1="356.62" y1="463.6" x2="356.62" y2="454.3" stroke="#FF00FF" stroke-width="1.4" />
<line x1="352.12" y1="454.3" x2="361.12" y2="454.3" stroke="#FF00FF" stroke-width="1.5" />
<line x1="370.53999999999996" y1="444" x2="370.53999999999996" y2="428.1" stroke="#FF00FF" stroke-width="1.4" />
<line x1="366.03999999999996" y1="428.1" x2="375.03999999999996" y2="428.1" stroke="#FF00FF" stroke-width="1.5" />
<line x1="384.46" y1="426.4" x2="384.46" y2="416.3" stroke="#FF00FF" stroke-width="1.4" />
<line x1="379.96" y1="416.3" x2="388.96" y2="416.3" stroke="#FF00FF" stroke-width="1.5" />
<line x1="398.38" y1="423.6" x2="398.38" y2="401.1" stroke="#FF00FF" stroke-width="1.4" />
<line x1="393.88" y1="401.1" x2="402.88" y2="401.1" stroke="#FF00FF" stroke-width="1.5" />
<line x1="412.29999999999995" y1="434.9" x2="412.29999999999995" y2="416.9" stroke="#FF00FF" stroke-width="1.4" />
<line x1="407.79999999999995" y1="416.9" x2="416.79999999999995" y2="416.9" stroke="#FF00FF" stroke-width="1.5" />
<line x1="426.21999999999997" y1="422.6" x2="426.21999999999997" y2="404.6" stroke="#FF00FF" stroke-width="1.4" />
<line x1="421.71999999999997" y1="404.6" x2="430.71999999999997" y2="404.6" stroke="#FF00FF" stroke-width="1.5" />
<line x1="440.14" y1="443.5" x2="440.14" y2="434.4" stroke="#FF00FF" stroke-width="1.4" />
<line x1="435.64" y1="434.4" x2="444.64" y2="434.4" stroke="#FF00FF" stroke-width="1.5" />
<line x1="454.06" y1="444.3" x2="454.06" y2="430.3" stroke="#FF00FF" stroke-width="1.4" />
<line x1="449.56" y1="430.3" x2="458.56" y2="430.3" stroke="#FF00FF" stroke-width="1.5" />
<line x1="467.98" y1="441.2" x2="467.98" y2="430.2" stroke="#FF00FF" stroke-width="1.4" />
<line x1="463.48" y1="430.2" x2="472.48" y2="430.2" stroke="#FF00FF" stroke-width="1.5" />
<line x1="481.9" y1="421.3" x2="481.9" y2="410.9" stroke="#FF00FF" stroke-width="1.4" />
<line x1="477.4" y1="410.9" x2="486.4" y2="410.9" stroke="#FF00FF" stroke-width="1.5" />
<line x1="495.82" y1="427.3" x2="495.82" y2="412.7" stroke="#FF00FF" stroke-width="1.4" />
<line x1="491.32" y1="412.7" x2="500.32" y2="412.7" stroke="#FF00FF" stroke-width="1.5" />
<line x1="342.7" y1="440" x2="342.7" y2="431" stroke="#00B050" stroke-width="1.4" />
<line x1="338.2" y1="431" x2="347.2" y2="431" stroke="#00B050" stroke-width="1.5" />
<line x1="356.62" y1="421.9" x2="356.62" y2="408.4" stroke="#00B050" stroke-width="1.4" />
<line x1="352.12" y1="408.4" x2="361.12" y2="408.4" stroke="#00B050" stroke-width="1.5" />
<line x1="370.53999999999996" y1="433.7" x2="370.53999999999996" y2="421.9" stroke="#00B050" stroke-width="1.4" />
<line x1="366.03999999999996" y1="421.9" x2="375.03999999999996" y2="421.9" stroke="#00B050" stroke-width="1.5" />
<line x1="384.46" y1="435.4" x2="384.46" y2="421.9" stroke="#00B050" stroke-width="1.4" />
<line x1="379.96" y1="421.9" x2="388.96" y2="421.9" stroke="#00B050" stroke-width="1.5" />
<line x1="398.38" y1="423.9" x2="398.38" y2="408.4" stroke="#00B050" stroke-width="1.4" />
<line x1="393.88" y1="408.4" x2="402.88" y2="408.4" stroke="#00B050" stroke-width="1.5" />
<line x1="412.29999999999995" y1="399.7" x2="412.29999999999995" y2="383.8" stroke="#00B050" stroke-width="1.4" />
<line x1="407.79999999999995" y1="383.8" x2="416.79999999999995" y2="383.8" stroke="#00B050" stroke-width="1.5" />
<line x1="426.21999999999997" y1="378.6" x2="426.21999999999997" y2="361.3" stroke="#00B050" stroke-width="1.4" />
<line x1="421.71999999999997" y1="361.3" x2="430.71999999999997" y2="361.3" stroke="#00B050" stroke-width="1.5" />
<line x1="440.14" y1="403.3" x2="440.14" y2="392.8" stroke="#00B050" stroke-width="1.4" />
<line x1="435.64" y1="392.8" x2="444.64" y2="392.8" stroke="#00B050" stroke-width="1.5" />
<line x1="454.06" y1="419.4" x2="454.06" y2="411.9" stroke="#00B050" stroke-width="1.4" />
<line x1="449.56" y1="411.9" x2="458.56" y2="411.9" stroke="#00B050" stroke-width="1.5" />
<line x1="467.98" y1="438.9" x2="467.98" y2="430.5" stroke="#00B050" stroke-width="1.4" />
<line x1="463.48" y1="430.5" x2="472.48" y2="430.5" stroke="#00B050" stroke-width="1.5" />
<line x1="481.9" y1="449.9" x2="481.9" y2="437" stroke="#00B050" stroke-width="1.4" />
<line x1="477.4" y1="437" x2="486.4" y2="437" stroke="#00B050" stroke-width="1.5" />
<line x1="495.82" y1="437.9" x2="495.82" y2="425" stroke="#00B050" stroke-width="1.4" />
<line x1="491.32" y1="425" x2="500.32" y2="425" stroke="#00B050" stroke-width="1.5" />
<line x1="330.7" y1="425" x2="505" y2="425" stroke="#00B050" stroke-width="2" />
<line x1="330.7" y1="437" x2="505" y2="437" stroke="#FF00FF" stroke-width="2" />
<polyline points="342.70,459.40 356.62,463.60 370.54,444.00 384.46,426.40 398.38,423.60 412.30,434.90 426.22,422.60 440.14,443.50 454.06,444.30 467.98,441.20 481.90,421.30 495.82,427.30" fill="none" stroke="#FF00FF" stroke-width="3" stroke-linejoin="round" stroke-linecap="round" />
<polyline points="342.70,440.00 356.62,421.90 370.54,433.70 384.46,435.40 398.38,423.90 412.30,399.70 426.22,378.60 440.14,403.30 454.06,419.40 467.98,438.90 481.90,449.90 495.82,437.90" fill="none" stroke="#00B050" stroke-width="3" stroke-linejoin="round" stroke-linecap="round" />
<text x="426.8" y="359.38" font-size="21.5" text-anchor="middle" fill="#009A00" font-weight="normal" letter-spacing="0.9">**</text>
<text x="440.5" y="389.98" font-size="21.5" text-anchor="middle" fill="#009A00" font-weight="normal" >*</text>
</svg>
</body></html>
